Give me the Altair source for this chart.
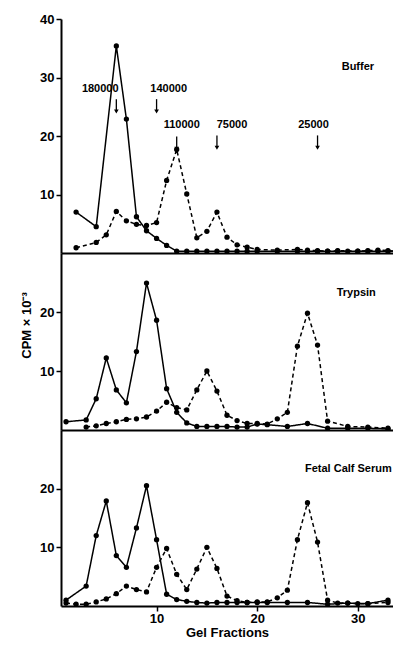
import altair as alt
import pandas as pd

FONT = "Liberation Sans, Arial, sans-serif"

# ---------------- data (gel fraction, CPM x 10^-3) ----------------
buf_solid_f = [2, 4, 6, 7, 8, 9, 10, 11, 12, 13, 14, 15, 16, 17, 18, 19, 20, 22, 24, 25, 26, 27, 28, 29, 30, 31, 32, 33, 34]
buf_solid_v = [7.0, 4.5, 35.4, 22.9, 6.2, 3.8, 2.5, 1.3, 0.3, 0.3, 0.3, 0.3, 0.3, 0.3, 0.3, 0.3, 0.3, 0.3, 0.3,
               0.3, 0.3, 0.3, 0.3, 0.3, 0.3, 0.3, 0.3, 0.3, 0.3]
buf_dash_f = [2, 4, 5, 6, 7, 8, 9, 10, 11, 12, 13, 14, 15, 16, 17, 18, 19, 20, 22, 24, 25, 26, 27, 28, 30, 31, 32, 33, 34]
buf_dash_v = [0.9, 1.8, 3.1, 7.1, 5.5, 4.9, 4.7, 5.2, 12.4, 17.7, 10.1, 2.6, 3.7, 7.0, 2.7, 1.4, 1.0, 0.6, 0.5, 0.6,
              0.5, 0.4, 0.3, 0.4, 0.3, 0.4, 0.5, 0.4, 0.3]

tryp_solid_f = [1, 3, 4, 5, 6, 7, 8, 9, 10, 11, 12, 13, 14, 15, 16, 17, 18, 19, 20, 21, 23, 25, 27, 29, 31, 33]
tryp_solid_v = [1.4, 1.7, 5.3, 12.2, 6.8, 4.6, 13.3, 24.9, 18.6, 7.0, 3.0, 1.2, 0.6, 0.6, 0.6, 0.6, 0.5, 0.5, 1.0,
                0.9, 0.6, 1.1, 0.3, 0.3, 0.3, 0.2]
tryp_dash_f = [3, 4, 5, 6, 7, 8, 9, 10, 11, 12, 13, 14, 15, 16, 17, 18, 19, 20, 21, 22, 23, 24, 25, 26, 27, 29, 31, 33]
tryp_dash_v = [0.5, 0.7, 1.1, 1.4, 1.8, 1.9, 2.2, 3.2, 4.7, 3.8, 3.4, 6.8, 10.0, 6.6, 2.5, 1.6, 1.1, 1.1, 1.0, 1.9,
               3.0, 14.2, 19.8, 14.4, 1.5, 0.6, 0.5, 0.3]

fcs_solid_f = [1, 3, 4, 5, 6, 7, 8, 9, 10, 11, 12, 13, 14, 15, 16, 17, 18, 19, 20, 21, 23, 25, 27, 29, 31, 33]
fcs_solid_v = [1.0, 3.4, 12.0, 17.9, 8.6, 6.6, 13.3, 20.5, 11.3, 2.0, 1.1, 0.8, 0.6, 0.5, 0.6, 0.6, 0.6, 0.6, 0.6,
               0.6, 0.6, 0.6, 0.3, 0.5, 0.4, 1.0]
fcs_dash_f = [1, 2, 3, 4, 5, 6, 7, 8, 9, 10, 11, 12, 13, 14, 15, 16, 17, 18, 19, 20, 21, 22, 23, 24, 25, 26, 27, 28,
              29, 30, 31, 33]
fcs_dash_v = [0.5, 0.3, 0.3, 0.7, 1.2, 2.1, 3.4, 2.8, 2.4, 6.6, 9.8, 5.4, 2.8, 6.3, 10.0, 6.4, 1.7, 0.9, 0.6, 0.7,
              0.7, 1.4, 2.7, 11.3, 17.6, 10.9, 1.0, 0.5, 0.5, 0.4, 0.4, 0.6]

# molecular-weight markers (top panel)
mw_labels = ["180000", "140000", "110000", "75000", "25000"]
mw_arrow_f = [6.0, 10.0, 12.0, 16.0, 26.0]
mw_arrow_top = [26.3, 26.3, 19.9, 20.1, 20.1]
mw_arrow_tip = [24.2, 24.2, 17.8, 18.0, 18.0]
mw_text_f = [4.4, 11.2, 12.5, 17.5, 25.6]
mw_text_v = [28.1, 28.1, 21.8, 21.8, 21.8]

panel_names = ["Buffer", "Trypsin", "Fetal Calf Serum"]
panel_name_f = [28.4, 27.9, 24.75]
panel_name_v = [31.8, 23.2, 23.4]

x_ticks = [10, 20, 30]
WIDTH = 332
XDOM = [0.5, 33.5]


def panel(sf, sv, df_, dv, ymax, height, yticks, idx, bottom=False, ytitle=False, marks=False):
    data = pd.DataFrame({
        "f": sf + df_,
        "v": sv + dv,
        "s": ["solid"] * len(sf) + ["dashed"] * len(df_),
    })
    xs = alt.Scale(domain=XDOM, nice=False, zero=False)
    ys = alt.Scale(domain=[0, ymax], nice=False)
    if bottom:
        xax = alt.Axis(values=x_ticks, title="Gel Fractions", tickSize=5, labelPadding=1,
                       titlePadding=1, labelFontSize=13, titleFontSize=13)
    else:
        xax = alt.Axis(labels=False, ticks=False, title=None)
    if ytitle:
        yax = alt.Axis(values=yticks, title="CPM × 10⁻³", tickSize=5, labelPadding=2,
                       titlePadding=6, titleFontSize=13, titleY=72)
    else:
        yax = alt.Axis(values=yticks, title=None, tickSize=5, labelPadding=2)

    X = alt.X("f:Q", scale=xs, axis=xax)
    Y = alt.Y("v:Q", scale=ys, axis=yax)

    base = alt.Chart(data)
    lines = base.mark_line(color="black", strokeWidth=1.5, clip=True).encode(
        x=X, y=Y, detail="s:N",
        strokeDash=alt.StrokeDash("s:N", scale=alt.Scale(domain=["solid", "dashed"], range=[[1, 0], [4, 3]]),
                                  legend=None),
    )
    pts = base.mark_circle(color="black", size=28, opacity=1, clip=True).encode(x=X, y=Y)

    name_df = pd.DataFrame({"f": [panel_name_f[idx]], "v": [panel_name_v[idx]], "t": [panel_names[idx]]})
    name = alt.Chart(name_df).mark_text(font=FONT, fontWeight="bold", fontSize=11, align="left",
                                        baseline="middle", color="black").encode(x=X, y=Y, text="t:N")
    layers = [lines, pts, name]
    if marks:
        arr = pd.DataFrame({"f": mw_arrow_f, "v": mw_arrow_top, "v2": mw_arrow_tip})
        rules = alt.Chart(arr).mark_rule(color="black", strokeWidth=1.3).encode(x=X, y=Y, y2="v2:Q")
        heads = alt.Chart(arr).mark_point(shape="triangle-down", filled=True, color="black", size=22,
                                          opacity=1).encode(x=X, y=alt.Y("v2:Q", scale=ys, axis=yax))
        lab = pd.DataFrame({"f": mw_text_f, "v": mw_text_v, "t": mw_labels})
        texts = alt.Chart(lab).mark_text(font=FONT, fontWeight="bold", fontSize=11, align="center",
                                         baseline="middle", color="black").encode(x=X, y=Y, text="t:N")
        layers += [rules, heads, texts]
    return alt.layer(*layers).properties(width=WIDTH, height=height)


top = panel(buf_solid_f, buf_solid_v, buf_dash_f, buf_dash_v, 40, 234, [10, 20, 30, 40], 0, marks=True)
mid = panel(tryp_solid_f, tryp_solid_v, tryp_dash_f, tryp_dash_v, 30, 177, [10, 20], 1, ytitle=True)
bot = panel(fcs_solid_f, fcs_solid_v, fcs_dash_f, fcs_dash_v, 30, 176, [10, 20], 2, bottom=True)

chart = alt.vconcat(top, mid, bot, spacing=0).properties(
    padding={"left": 12, "top": 5, "right": 0, "bottom": 0},
    background="white",
).configure_view(stroke=None).configure_axis(
    domainColor="black", domainWidth=2, tickColor="black", tickWidth=1.5, grid=False,
    labelFont=FONT, labelFontWeight="bold", labelColor="black", labelFontSize=13,
    titleFont=FONT, titleFontWeight="bold", titleColor="black",
)

chart.save("out.html", embed_options={"renderer": "svg", "actions": False})
